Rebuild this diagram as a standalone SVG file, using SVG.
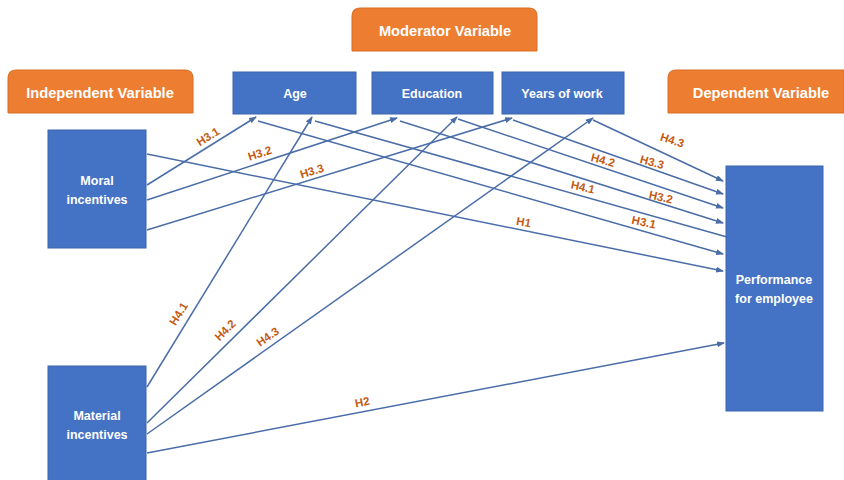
<svg xmlns="http://www.w3.org/2000/svg" width="844" height="480" viewBox="0 0 844 480">
<defs>
<style>
.hdr{fill:#ED7D31;stroke:#D86F26;stroke-width:1}
.nd{fill:#4472C4;stroke:#3B64AE;stroke-width:1}
.ht{font-family:"Liberation Sans",Arial,sans-serif;font-weight:bold;font-size:14.7px;fill:#FFFFFF;text-anchor:middle}
.nt{font-family:"Liberation Sans",Arial,sans-serif;font-weight:bold;font-size:12.5px;fill:#FFFFFF;text-anchor:middle}
.ln{stroke:#4A6DA8;stroke-width:1.5;fill:none}
.lb{font-family:"Liberation Sans",Arial,sans-serif;font-weight:bold;font-size:11.5px;fill:#C55A11;text-anchor:middle}
</style>
<marker id="ah" markerWidth="8" markerHeight="6" refX="7" refY="3" orient="auto" markerUnits="userSpaceOnUse">
<path d="M0,0 L8,3 L0,6 z" fill="#4A6DA8"/>
</marker>
</defs>
<rect width="844" height="480" fill="#FFFFFF"/>

<g id="moderator-header">
<path class="hdr" d="M352,51 V16 Q352,8 360,8 H529 Q537,8 537,16 V51 Z"/>
<text class="ht" x="445" y="36">Moderator Variable</text>
</g>
<g id="independent-header">
<path class="hdr" d="M8,113 V78 Q8,70 16,70 H185 Q193,70 193,78 V113 Z"/>
<text class="ht" x="100" y="98">Independent Variable</text>
</g>
<g id="dependent-header">
<path class="hdr" d="M668,113 V78 Q668,70 676,70 H844 V113 Z"/>
<text class="ht" x="761" y="98">Dependent Variable</text>
</g>

<g id="connectors">
<line class="ln" x1="147" y1="154" x2="723" y2="271" marker-end="url(#ah)"/>
<line class="ln" x1="147" y1="185" x2="256" y2="117" marker-end="url(#ah)"/>
<line class="ln" x1="147" y1="200" x2="397" y2="118" marker-end="url(#ah)"/>
<line class="ln" x1="147" y1="230" x2="512" y2="118" marker-end="url(#ah)"/>
<line class="ln" x1="147" y1="387" x2="312" y2="117" marker-end="url(#ah)"/>
<line class="ln" x1="147" y1="423" x2="457" y2="117" marker-end="url(#ah)"/>
<line class="ln" x1="147" y1="434" x2="593" y2="118" marker-end="url(#ah)"/>
<line class="ln" x1="147" y1="453" x2="724" y2="343" marker-end="url(#ah)"/>
<line class="ln" x1="593" y1="120" x2="723" y2="181" marker-end="url(#ah)"/>
<line class="ln" x1="513" y1="120" x2="723" y2="194" marker-end="url(#ah)"/>
<line class="ln" x1="458" y1="119" x2="723" y2="208" marker-end="url(#ah)"/>
<line class="ln" x1="400" y1="121" x2="723" y2="223" marker-end="url(#ah)"/>
<line class="ln" x1="315" y1="121" x2="727" y2="237"/>
<line class="ln" x1="258" y1="121" x2="723" y2="254" marker-end="url(#ah)"/>
</g>

<g id="labels">
<text class="lb" transform="translate(210,140) rotate(-32)">H3.1</text>
<text class="lb" transform="translate(261,157) rotate(-18)">H3.2</text>
<text class="lb" transform="translate(313,175) rotate(-17)">H3.3</text>
<text class="lb" transform="translate(182,316) rotate(-58)">H4.1</text>
<text class="lb" transform="translate(228,333) rotate(-45)">H4.2</text>
<text class="lb" transform="translate(270,340) rotate(-35)">H4.3</text>
<text class="lb" transform="translate(363,406) rotate(-11)">H2</text>
<text class="lb" transform="translate(671,144) rotate(18)">H4.3</text>
<text class="lb" transform="translate(602,164) rotate(15)">H4.2</text>
<text class="lb" transform="translate(651,166) rotate(15)">H3.3</text>
<text class="lb" transform="translate(582,191) rotate(13)">H4.1</text>
<text class="lb" transform="translate(660,201) rotate(13)">H3.2</text>
<text class="lb" transform="translate(643,226) rotate(12)">H3.1</text>
<text class="lb" transform="translate(523,226) rotate(10)">H1</text>
</g>

<g id="age">
<rect class="nd" x="233" y="72" width="123" height="42"/>
<text class="nt" x="295" y="98">Age</text>
</g>
<g id="education">
<rect class="nd" x="372" y="72" width="121" height="42"/>
<text class="nt" x="432" y="98">Education</text>
</g>
<g id="years-of-work">
<rect class="nd" x="502" y="72" width="122" height="42"/>
<text class="nt" x="562" y="98">Years of work</text>
</g>
<g id="moral-incentives">
<rect class="nd" x="48" y="130" width="98" height="118"/>
<text class="nt" x="97" y="185">Moral</text>
<text class="nt" x="97" y="204">incentives</text>
</g>
<g id="material-incentives">
<rect class="nd" x="48" y="366" width="98" height="120"/>
<text class="nt" x="97" y="420">Material</text>
<text class="nt" x="97" y="439">incentives</text>
</g>
<g id="performance">
<rect class="nd" x="726" y="166" width="97" height="245"/>
<text class="nt" x="774" y="284">Performance</text>
<text class="nt" x="774" y="303">for employee</text>
</g>
</svg>
